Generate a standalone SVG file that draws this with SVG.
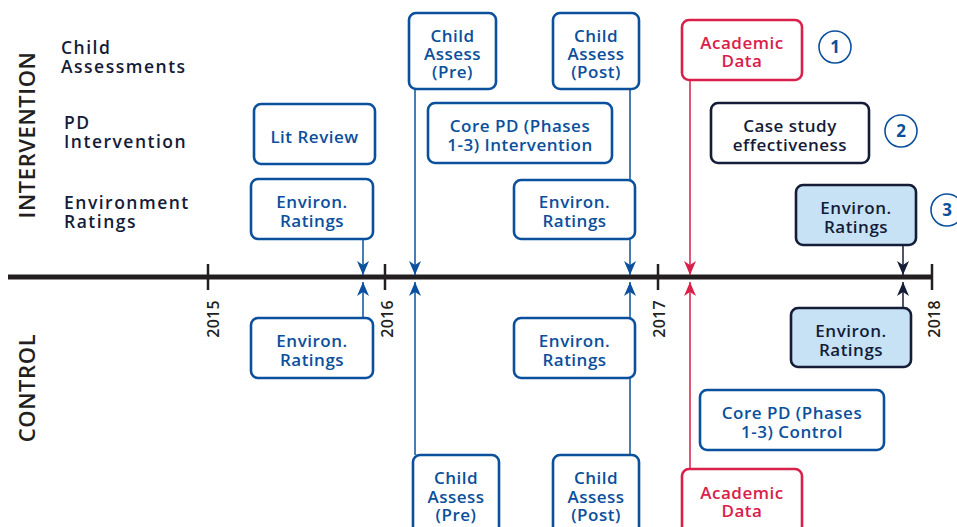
<svg xmlns="http://www.w3.org/2000/svg" width="957" height="527" viewBox="0 0 957 527">
<style>
.bx{fill:#fff;stroke:#0b509c;stroke-width:2.6}
.bxr{fill:#fff;stroke:#d8204a;stroke-width:2.6}
.bxn{fill:#fff;stroke:#141c38;stroke-width:2.6}
.bxf{fill:#c6e2f4;stroke:#141c38;stroke-width:2.6}
.t{font-family:"Open Sans","Noto Sans",sans-serif;font-size:17px;font-weight:600;text-anchor:middle;letter-spacing:0.5px}
.tb{fill:#0b509c}
.tr{fill:#d8204a}
.tn{fill:#141c38}
.lab{font-family:"Open Sans","Noto Sans",sans-serif;font-size:17.5px;font-weight:600;fill:#141c38;letter-spacing:1.5px}
.side{font-family:"Open Sans","Noto Sans",sans-serif;font-size:22px;font-weight:600;fill:#231f20;text-anchor:middle;letter-spacing:0.6px}
.yr{font-family:"Open Sans","Noto Sans",sans-serif;font-size:16px;font-weight:600;fill:#231f20;text-anchor:end;letter-spacing:0.3px}
.num{font-family:"Open Sans","Noto Sans",sans-serif;font-size:17px;font-weight:700;fill:#0b509c;text-anchor:middle}
.circ{fill:#fff;stroke:#0b509c;stroke-width:1.6}
.cb{stroke:#0b509c;stroke-width:1.5;fill:none;marker-end:url(#mb)}
.cr{stroke:#d8204a;stroke-width:1.5;fill:none;marker-end:url(#mr)}
.cn{stroke:#141c38;stroke-width:1.5;fill:none;marker-end:url(#mn)}
</style>
<defs>
<marker id="mb" viewBox="-14 -7 15 14" refX="0" refY="0" markerWidth="15" markerHeight="14" markerUnits="userSpaceOnUse" orient="auto"><path d="M0,0 L-14,-6 L-10,0 L-14,6 Z" fill="#0b509c"/></marker>
<marker id="mr" viewBox="-14 -7 15 14" refX="0" refY="0" markerWidth="15" markerHeight="14" markerUnits="userSpaceOnUse" orient="auto"><path d="M0,0 L-14,-6 L-10,0 L-14,6 Z" fill="#d8204a"/></marker>
<marker id="mn" viewBox="-14 -7 15 14" refX="0" refY="0" markerWidth="15" markerHeight="14" markerUnits="userSpaceOnUse" orient="auto"><path d="M0,0 L-14,-6 L-10,0 L-14,6 Z" fill="#141c38"/></marker>
</defs>
<rect width="957" height="527" fill="#fff"/>

<g id="axis">
<line x1="8" y1="277" x2="932" y2="277" stroke="#231f20" stroke-width="5"/>
<line x1="208" y1="264" x2="208" y2="290" stroke="#231f20" stroke-width="2.5"/>
<line x1="385" y1="264" x2="385" y2="290" stroke="#231f20" stroke-width="2.5"/>
<line x1="658" y1="264" x2="658" y2="290" stroke="#231f20" stroke-width="2.5"/>
<line x1="932" y1="264" x2="932" y2="290" stroke="#231f20" stroke-width="2.5"/>
<text class="yr" transform="translate(219,300) rotate(-90)">2015</text>
<text class="yr" transform="translate(393,300) rotate(-90)">2016</text>
<text class="yr" transform="translate(665,300) rotate(-90)">2017</text>
<text class="yr" transform="translate(940,300) rotate(-90)">2018</text>
</g>

<g id="side-labels">
<text class="side" transform="translate(35,135) rotate(-90)">INTERVENTION</text>
<text class="side" transform="translate(35,388) rotate(-90)">CONTROL</text>
</g>

<g id="row-labels">
<text class="lab" x="61" y="54">Child</text>
<text class="lab" x="61" y="73">Assessments</text>
<text class="lab" x="64" y="129">PD</text>
<text class="lab" x="64" y="148">Intervention</text>
<text class="lab" x="64" y="209">Environment</text>
<text class="lab" x="64" y="228">Ratings</text>
</g>

<g id="connectors">
<line class="cb" x1="363" y1="239" x2="363" y2="275"/>
<line class="cb" x1="415" y1="89" x2="415" y2="275"/>
<line class="cb" x1="630" y1="89" x2="630" y2="275"/>
<line class="cr" x1="690" y1="80" x2="690" y2="275"/>
<line class="cn" x1="903" y1="245" x2="903" y2="275"/>
<line class="cb" x1="363" y1="318" x2="363" y2="282"/>
<line class="cb" x1="415" y1="455" x2="415" y2="282"/>
<line class="cb" x1="630" y1="455" x2="630" y2="282"/>
<line class="cr" x1="690" y1="469" x2="690" y2="282"/>
<line class="cn" x1="903" y1="308" x2="903" y2="282"/>
</g>

<g id="int-child-pre">
<rect class="bx" x="409" y="13" width="87" height="76" rx="7"/>
<text class="t tb" x="452.5" y="42">Child</text>
<text class="t tb" x="452.5" y="60">Assess</text>
<text class="t tb" x="452.5" y="78">(Pre)</text>
</g>
<g id="int-child-post">
<rect class="bx" x="553" y="13" width="86" height="76" rx="7"/>
<text class="t tb" x="596" y="42">Child</text>
<text class="t tb" x="596" y="60">Assess</text>
<text class="t tb" x="596" y="78">(Post)</text>
</g>
<g id="int-academic">
<rect class="bxr" x="682" y="20" width="120" height="60" rx="7"/>
<text class="t tr" x="742" y="49">Academic</text>
<text class="t tr" x="742" y="67">Data</text>
</g>
<g id="badge-1">
<circle class="circ" cx="835" cy="47" r="16"/>
<text class="num" x="835" y="53">1</text>
</g>
<g id="int-lit-review">
<rect class="bx" x="254" y="104" width="121" height="60" rx="7"/>
<text class="t tb" x="314.5" y="143">Lit Review</text>
</g>
<g id="int-core-pd">
<rect class="bx" x="428" y="103" width="184" height="60" rx="7"/>
<text class="t tb" x="520" y="132">Core PD (Phases</text>
<text class="t tb" x="520" y="151">1-3) Intervention</text>
</g>
<g id="int-case-study">
<rect class="bxn" x="711" y="103" width="158" height="60" rx="7"/>
<text class="t tn" x="790" y="132">Case study</text>
<text class="t tn" x="790" y="151">effectiveness</text>
</g>
<g id="badge-2">
<circle class="circ" cx="901" cy="131" r="16"/>
<text class="num" x="901" y="137">2</text>
</g>
<g id="int-environ-1">
<rect class="bx" x="251" y="179" width="122" height="60" rx="7"/>
<text class="t tb" x="312" y="208">Environ.</text>
<text class="t tb" x="312" y="227">Ratings</text>
</g>
<g id="int-environ-2">
<rect class="bx" x="514" y="180" width="121" height="59" rx="7"/>
<text class="t tb" x="574.5" y="208">Environ.</text>
<text class="t tb" x="574.5" y="227">Ratings</text>
</g>
<g id="int-environ-3">
<rect class="bxf" x="796" y="185" width="120" height="60" rx="7"/>
<text class="t tn" x="856" y="214">Environ.</text>
<text class="t tn" x="856" y="233">Ratings</text>
</g>
<g id="badge-3">
<circle class="circ" cx="947" cy="210" r="16"/>
<text class="num" x="947" y="216">3</text>
</g>

<g id="ctl-environ-1">
<rect class="bx" x="251" y="318" width="122" height="60" rx="7"/>
<text class="t tb" x="312" y="347">Environ.</text>
<text class="t tb" x="312" y="366">Ratings</text>
</g>
<g id="ctl-environ-2">
<rect class="bx" x="514" y="318" width="121" height="60" rx="7"/>
<text class="t tb" x="574.5" y="347">Environ.</text>
<text class="t tb" x="574.5" y="366">Ratings</text>
</g>
<g id="ctl-environ-3">
<rect class="bxf" x="791" y="308" width="120" height="59" rx="7"/>
<text class="t tn" x="851" y="337">Environ.</text>
<text class="t tn" x="851" y="356">Ratings</text>
</g>
<g id="ctl-core-pd">
<rect class="bx" x="700" y="390" width="184" height="60" rx="7"/>
<text class="t tb" x="792" y="419">Core PD (Phases</text>
<text class="t tb" x="792" y="438">1-3) Control</text>
</g>
<g id="ctl-child-pre">
<rect class="bx" x="413" y="455" width="86" height="90" rx="7"/>
<text class="t tb" x="456" y="484">Child</text>
<text class="t tb" x="456" y="503">Assess</text>
<text class="t tb" x="456" y="521">(Pre)</text>
</g>
<g id="ctl-child-post">
<rect class="bx" x="553" y="455" width="86" height="90" rx="7"/>
<text class="t tb" x="596" y="484">Child</text>
<text class="t tb" x="596" y="503">Assess</text>
<text class="t tb" x="596" y="521">(Post)</text>
</g>
<g id="ctl-academic">
<rect class="bxr" x="682" y="469" width="120" height="80" rx="7"/>
<text class="t tr" x="742" y="499">Academic</text>
<text class="t tr" x="742" y="517">Data</text>
</g>
</svg>
